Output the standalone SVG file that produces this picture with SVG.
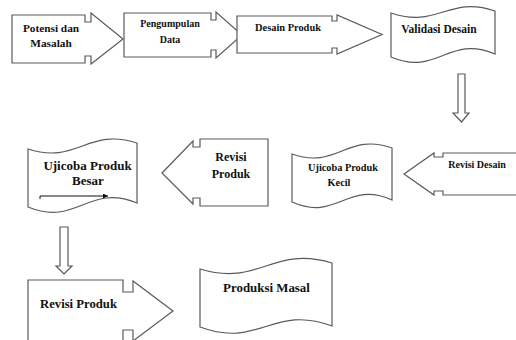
<svg xmlns="http://www.w3.org/2000/svg" width="516" height="340" viewBox="0 0 516 340">
<style>
.s{fill:#fff;stroke:#5a5a5a;stroke-width:1.2;stroke-linejoin:miter}
.t{font-family:'Liberation Serif',serif;font-weight:bold;fill:#111;text-anchor:middle}
</style>
<defs>
<marker id="ah" viewBox="0 0 6 6" refX="6" refY="3" markerWidth="5" markerHeight="5" orient="auto" markerUnits="userSpaceOnUse">
<path d="M0,0 L6,3 L0,6 Z" fill="#111"/>
</marker>
</defs>
<rect width="516" height="340" fill="#fff"/>
<g id="potensi">
<path class="s" d="M12,15 H85 V22 H91 V13 L123,39 L91,64 V56 H85 V63 H12 Z"/>
<text class="t" x="51" y="32" font-size="11.3">Potensi dan</text>
<text class="t" x="51" y="47" font-size="11.3">Masalah</text>
</g>
<g id="pengumpulan">
<path class="s" d="M124,13 H211 V20 H216 V12 L242,35 L216,58 V50 H211 V57 H124 Z"/>
<text class="t" x="170" y="27" font-size="10">Pengumpulan</text>
<text class="t" x="170" y="43" font-size="10">Data</text>
</g>
<g id="desain">
<path class="s" d="M237,16 H332 V21 H337 V15 L382,34.5 L337,54 V48 H332 V53 H237 Z"/>
<text class="t" x="288" y="31" font-size="10.4">Desain Produk</text>
</g>
<g id="validasi">
<path class="s" d="M391,13 C437.8,29 448.2,-5 495,11 L495,54 C448.2,34 437.8,77 391,57 Z"/>
<text class="t" x="439" y="33" font-size="11.5">Validasi Desain</text>
</g>
<g id="revisi-desain">
<path class="s" d="M404,174 L434,153 V157 H443 V153 H520 V195 H443 V191 H434 V195 Z"/>
<text class="t" x="477" y="168" font-size="10">Revisi Desain</text>
</g>
<g id="ujicoba-kecil">
<path class="s" d="M292,154 C337,170 347,132 392,148 L392,200 C347,180 337,222 292,202 Z"/>
<text class="t" x="343" y="171" font-size="10.3">Ujicoba Produk</text>
<text class="t" x="339" y="186" font-size="10.3">Kecil</text>
</g>
<g id="revisi-produk-1">
<path class="s" d="M162,173 L193,141 V147 H200 V139 H268 V206 H200 V198 H193 V204 Z"/>
<text class="t" x="231" y="161" font-size="12">Revisi</text>
<text class="t" x="231" y="178" font-size="12">Produk</text>
</g>
<g id="ujicoba-besar">
<path class="s" d="M28,149 C77,165 88,127 137,143 L137,203 C88,183 77,227 28,207 Z"/>
<text class="t" x="87.5" y="170" font-size="13">Ujicoba Produk</text>
<text class="t" x="88" y="185" font-size="13">Besar</text>
<path d="M40,199 V196 H108" fill="none" stroke="#111" stroke-width="1" marker-end="url(#ah)"/>
</g>
<g id="revisi-produk-2">
<path class="s" d="M28,350 V280 H123 V292 H133 V281 L173,311 L133,341 V330 H123 V342 H28 Z"/>
<text class="t" x="78.5" y="308" font-size="12.7">Revisi Produk</text>
</g>
<g id="produksi-masal">
<path class="s" d="M200,269 C259.4,287 272.6,245 332,263 L332,326 C272.6,304 259.4,349 200,327 Z"/>
<text class="t" x="266.5" y="292" font-size="12.9">Produksi Masal</text>
</g>
<g id="connectors">
<path class="s" d="M458,74 H465 V113 H469 L461.5,122 L453,113 H458 Z"/>
<path class="s" d="M60,227 H68 V266 H72 L64,274 L56,266 H60 Z"/>
</g>
</svg>
